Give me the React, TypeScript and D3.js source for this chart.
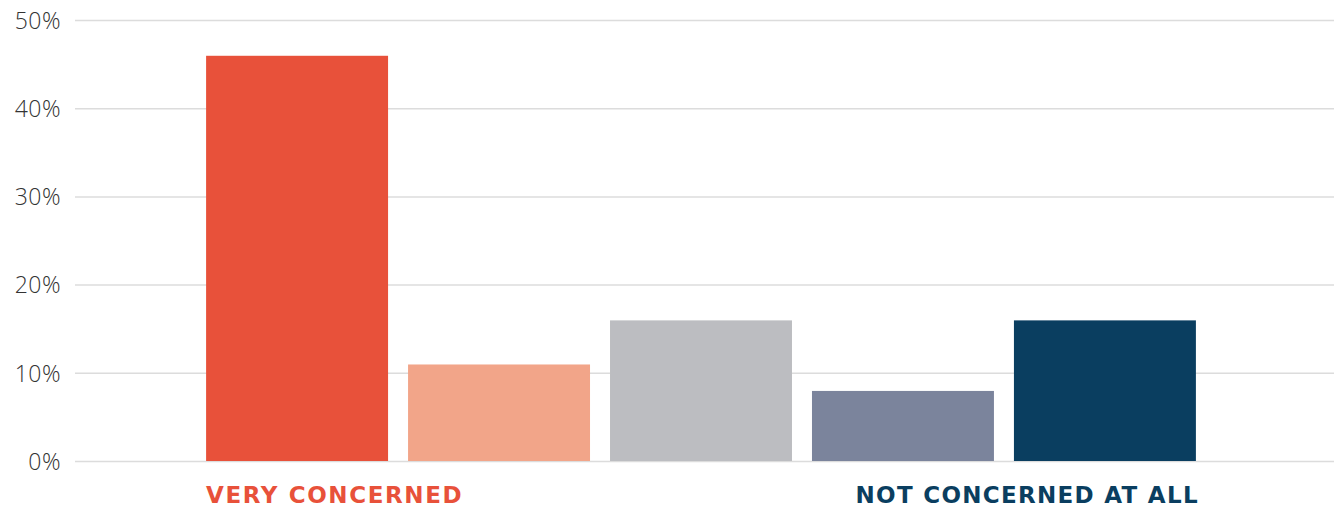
import * as d3 from 'd3';

const WIDTH = 1338;
const HEIGHT = 508;

// answer buckets, from very concerned to not concerned at all
const categories = ['very', 'somewhat', 'neutral', 'not very', 'not at all'];
const shares = [46, 11, 16, 8, 16];
const barColors = ['#e8513a', '#f2a589', '#bcbdc1', '#7b849c', '#0a3e60'];
const yTicks = [0, 10, 20, 30, 40, 50];
const endLabels = ['VERY CONCERNED', 'NOT CONCERNED AT ALL'];

const PLOT_LEFT = 75;
const PLOT_RIGHT = 1334;
const PLOT_TOP = 20.5;
const PLOT_BOTTOM = 461.5;
const LABEL_FONT = "'DejaVu Sans', 'Open Sans', sans-serif";

export default function App() {
  const x = d3
    .scaleBand<string>()
    .domain(categories)
    .range([196, 1206])
    .paddingInner(20 / 202)
    .paddingOuter(0.05);

  const y = d3.scaleLinear().domain([0, 50]).range([PLOT_BOTTOM, PLOT_TOP]);

  const first = categories[0];
  const last = categories[categories.length - 1];

  return (
    <svg
      width={WIDTH}
      height={HEIGHT}
      style={{ position: 'absolute', left: 0, top: 0, background: '#fff' }}
    >
      {/* gridlines + tick labels */}
      {yTicks.map(t => (
        <g key={t}>
          <line
            x1={PLOT_LEFT}
            x2={PLOT_RIGHT}
            y1={y(t)}
            y2={y(t)}
            stroke="#dcdcdc"
            strokeWidth={1.5}
          />
          <text
            x={61}
            y={y(t)}
            dy="0.36em"
            textAnchor="end"
            fontFamily="'Open Sans', sans-serif"
            fontWeight={300}
            fontSize={23}
            letterSpacing={0.5}
            fill="#333"
          >
            {t}%
          </text>
        </g>
      ))}

      {categories.map((c, i) => (
        <rect
          key={c}
          x={x(c)}
          y={y(shares[i])}
          width={x.bandwidth()}
          height={y(0) - y(shares[i]) - 0.5}
          fill={barColors[i]}
        />
      ))}

      <text
        x={x(first)}
        y={503}
        fontFamily={LABEL_FONT}
        fontWeight={700}
        fontSize={23}
        letterSpacing={1.6}
        fill={barColors[0]}
      >
        {endLabels[0]}
      </text>
      <text
        x={(x(last) ?? 0) + x.bandwidth() + 3}
        y={503}
        textAnchor="end"
        fontFamily={LABEL_FONT}
        fontWeight={700}
        fontSize={23}
        letterSpacing={1.3}
        fill={barColors[4]}
      >
        {endLabels[1]}
      </text>
    </svg>
  );
}
